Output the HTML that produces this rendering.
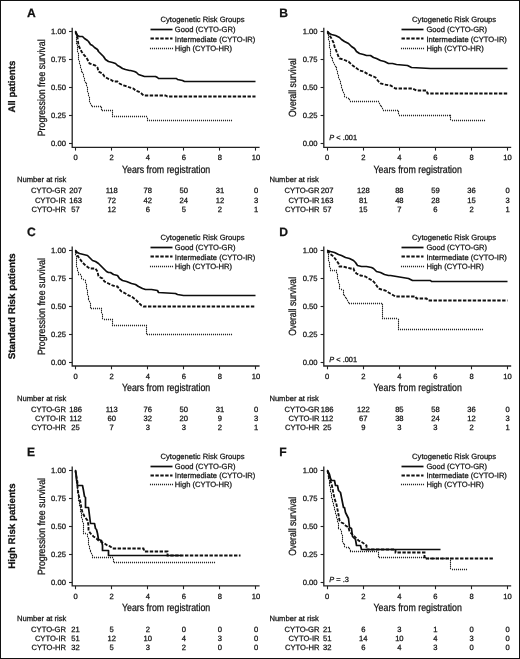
<!DOCTYPE html><html><head><meta charset="utf-8"><style>html,body{margin:0;padding:0;background:#fff;width:520px;height:659px;overflow:hidden}svg{display:block;will-change:transform}</style></head><body><svg width="520" height="659" viewBox="0 0 520 659">
<style>text{font-family:"Liberation Sans",sans-serif;fill:#111;stroke:#111;stroke-width:0.25;text-rendering:geometricPrecision}.ax{stroke:#222;stroke-width:1.3;fill:none}.tk{stroke:#222;stroke-width:1.1;fill:none}.s{stroke:#0d0d0d;stroke-width:1.7;fill:none;stroke-linejoin:round}.d{stroke:#111;stroke-width:1.85;fill:none;stroke-dasharray:3.4 1.5}.o{stroke:#2a2a2a;stroke-width:1.3;fill:none;stroke-dasharray:1 1}.od{fill:#262626;stroke:none}</style>
<rect x="0" y="0" width="520" height="659" fill="#fff"/>
<rect x="0.5" y="0.5" width="519" height="658" fill="none" stroke="#111" stroke-width="1"/>
<path class="ax" d="M72.2,27.8 L72.2,147.3 L259.6,147.3"/>
<path class="tk" d="M69,143.5 H72.2"/>
<text x="65.9" y="146.3" font-size="7.6" text-anchor="end" >0.00</text>
<path class="tk" d="M69,115.5 H72.2"/>
<text x="65.9" y="118.29" font-size="7.6" text-anchor="end" >0.25</text>
<path class="tk" d="M69,87.5 H72.2"/>
<text x="65.9" y="90.27" font-size="7.6" text-anchor="end" >0.50</text>
<path class="tk" d="M69,59.5 H72.2"/>
<text x="65.9" y="62.26" font-size="7.6" text-anchor="end" >0.75</text>
<path class="tk" d="M69,31.5 H72.2"/>
<text x="65.9" y="34.25" font-size="7.6" text-anchor="end" >1.00</text>
<path class="tk" d="M75.5,147.3 V150.6"/>
<text x="75.6" y="159.9" font-size="7.6" text-anchor="middle" >0</text>
<path class="tk" d="M111.5,147.3 V150.6"/>
<text x="111.68" y="159.9" font-size="7.6" text-anchor="middle" >2</text>
<path class="tk" d="M147.5,147.3 V150.6"/>
<text x="147.76" y="159.9" font-size="7.6" text-anchor="middle" >4</text>
<path class="tk" d="M183.5,147.3 V150.6"/>
<text x="183.84" y="159.9" font-size="7.6" text-anchor="middle" >6</text>
<path class="tk" d="M219.5,147.3 V150.6"/>
<text x="219.92" y="159.9" font-size="7.6" text-anchor="middle" >8</text>
<path class="tk" d="M255.5,147.3 V150.6"/>
<text x="256" y="159.9" font-size="7.6" text-anchor="middle" >10</text>
<text x="121.91" y="172.7" font-size="10.4" textLength="88.37" lengthAdjust="spacingAndGlyphs">Years from registration</text>
<text transform="translate(44.7,135.6) rotate(-90)" x="-0.72" y="0" font-size="10.4" textLength="96.92" lengthAdjust="spacingAndGlyphs">Progression free survival</text>
<text x="27" y="16.8" font-size="12.1" font-weight="bold">A</text>
<text x="160.5" y="22.2" font-size="7.65" text-anchor="start" textLength="84.06" lengthAdjust="spacingAndGlyphs">Cytogenetic Risk Groups</text>
<path class="s" d="M150.5,29.5 L172.5,29.5"/>
<text x="174.8" y="32" font-size="7.65" text-anchor="start" textLength="60.67" lengthAdjust="spacingAndGlyphs">Good (CYTO-GR)</text>
<path class="d" d="M150.5,38.5 L172.5,38.5"/>
<text x="174.8" y="41.5" font-size="7.65" text-anchor="start" textLength="80.52" lengthAdjust="spacingAndGlyphs">Intermediate (CYTO-IR)</text>
<path class="od" d="M149.95,47.8h1.1v1.4h-1.1zM151.95,47.8h1.1v1.4h-1.1zM153.95,47.8h1.1v1.4h-1.1zM155.95,47.8h1.1v1.4h-1.1zM157.95,47.8h1.1v1.4h-1.1zM159.95,47.8h1.1v1.4h-1.1zM161.95,47.8h1.1v1.4h-1.1zM163.95,47.8h1.1v1.4h-1.1zM165.95,47.8h1.1v1.4h-1.1zM167.95,47.8h1.1v1.4h-1.1zM169.95,47.8h1.1v1.4h-1.1zM171.95,47.8h1.1v1.4h-1.1z"/>
<text x="174.8" y="50.7" font-size="7.65" text-anchor="start" textLength="57.29" lengthAdjust="spacingAndGlyphs">High (CYTO-HR)</text>
<text x="17" y="182.1" font-size="7.65" text-anchor="start" textLength="49.41" lengthAdjust="spacingAndGlyphs">Number at risk</text>
<text x="66" y="193.35" font-size="7.65" text-anchor="end" textLength="34.91" lengthAdjust="spacingAndGlyphs">CYTO-GR</text>
<text x="75.6" y="193.35" font-size="7.6" text-anchor="middle" >207</text>
<text x="111.68" y="193.35" font-size="7.6" text-anchor="middle" >118</text>
<text x="147.76" y="193.35" font-size="7.6" text-anchor="middle" >78</text>
<text x="183.84" y="193.35" font-size="7.6" text-anchor="middle" >50</text>
<text x="219.92" y="193.35" font-size="7.6" text-anchor="middle" >31</text>
<text x="256" y="193.35" font-size="7.6" text-anchor="middle" >0</text>
<text x="66" y="202.55" font-size="7.65" text-anchor="end" textLength="31.11" lengthAdjust="spacingAndGlyphs">CYTO-IR</text>
<text x="75.6" y="202.55" font-size="7.6" text-anchor="middle" >163</text>
<text x="111.68" y="202.55" font-size="7.6" text-anchor="middle" >72</text>
<text x="147.76" y="202.55" font-size="7.6" text-anchor="middle" >42</text>
<text x="183.84" y="202.55" font-size="7.6" text-anchor="middle" >24</text>
<text x="219.92" y="202.55" font-size="7.6" text-anchor="middle" >12</text>
<text x="256" y="202.55" font-size="7.6" text-anchor="middle" >3</text>
<text x="66" y="211.65" font-size="7.65" text-anchor="end" textLength="34.48" lengthAdjust="spacingAndGlyphs">CYTO-HR</text>
<text x="75.6" y="211.65" font-size="7.6" text-anchor="middle" >57</text>
<text x="111.68" y="211.65" font-size="7.6" text-anchor="middle" >12</text>
<text x="147.76" y="211.65" font-size="7.6" text-anchor="middle" >6</text>
<text x="183.84" y="211.65" font-size="7.6" text-anchor="middle" >5</text>
<text x="219.92" y="211.65" font-size="7.6" text-anchor="middle" >2</text>
<text x="256" y="211.65" font-size="7.6" text-anchor="middle" >1</text>
<path class="od" d="M74.95,30.8h1.1v1.4h-1.1zM74.95,32.8h1.1v1.4h-1.1zM75.95,34.8h1.1v1.4h-1.1zM75.95,36.8h1.1v1.4h-1.1zM75.95,38.8h1.1v1.4h-1.1zM75.95,40.8h1.1v1.4h-1.1zM75.95,42.8h1.1v1.4h-1.1zM76.95,44.8h1.1v1.4h-1.1zM76.95,46.8h1.1v1.4h-1.1zM76.95,48.8h1.1v1.4h-1.1zM76.95,50.8h1.1v1.4h-1.1zM77.95,52.8h1.1v1.4h-1.1zM77.95,54.8h1.1v1.4h-1.1zM77.95,56.8h1.1v1.4h-1.1zM77.95,58.8h1.1v1.4h-1.1zM78.95,60.8h1.1v1.4h-1.1zM78.95,62.8h1.1v1.4h-1.1zM79.95,64.8h1.1v1.4h-1.1zM79.95,66.8h1.1v1.4h-1.1zM80.95,68.8h1.1v1.4h-1.1zM80.95,70.8h1.1v1.4h-1.1zM81.95,71.8h1.1v1.4h-1.1zM82.95,73.8h1.1v1.4h-1.1zM82.95,75.8h1.1v1.4h-1.1zM83.95,77.8h1.1v1.4h-1.1zM83.95,79.8h1.1v1.4h-1.1zM84.95,81.8h1.1v1.4h-1.1zM85.95,82.8h1.1v1.4h-1.1zM85.95,84.8h1.1v1.4h-1.1zM86.95,86.8h1.1v1.4h-1.1zM86.95,88.8h1.1v1.4h-1.1zM86.95,90.8h1.1v1.4h-1.1zM87.95,92.8h1.1v1.4h-1.1zM87.95,94.8h1.1v1.4h-1.1zM88.95,96.8h1.1v1.4h-1.1zM88.95,98.8h1.1v1.4h-1.1zM88.95,100.8h1.1v1.4h-1.1zM89.95,102.8h1.1v1.4h-1.1zM90.95,104.8h1.1v1.4h-1.1zM91.95,105.8h1.1v1.4h-1.1zM93.95,105.8h1.1v1.4h-1.1zM95.95,105.8h1.1v1.4h-1.1zM97.95,105.8h1.1v1.4h-1.1zM99.95,105.8h1.1v1.4h-1.1zM100.95,106.8h1.1v1.4h-1.1zM100.95,108.8h1.1v1.4h-1.1zM101.95,109.8h1.1v1.4h-1.1zM103.95,109.8h1.1v1.4h-1.1zM105.95,109.8h1.1v1.4h-1.1zM107.95,109.8h1.1v1.4h-1.1zM109.95,109.8h1.1v1.4h-1.1zM111.95,109.8h1.1v1.4h-1.1zM111.95,111.8h1.1v1.4h-1.1zM111.95,113.8h1.1v1.4h-1.1zM111.95,115.8h1.1v1.4h-1.1zM113.95,115.8h1.1v1.4h-1.1zM115.95,115.8h1.1v1.4h-1.1zM117.95,115.8h1.1v1.4h-1.1zM119.95,115.8h1.1v1.4h-1.1zM121.95,115.8h1.1v1.4h-1.1zM123.95,115.8h1.1v1.4h-1.1zM125.95,115.8h1.1v1.4h-1.1zM127.95,115.8h1.1v1.4h-1.1zM129.95,115.8h1.1v1.4h-1.1zM131.95,115.8h1.1v1.4h-1.1zM133.95,115.8h1.1v1.4h-1.1zM135.95,115.8h1.1v1.4h-1.1zM137.95,115.8h1.1v1.4h-1.1zM139.95,115.8h1.1v1.4h-1.1zM141.95,115.8h1.1v1.4h-1.1zM143.95,115.8h1.1v1.4h-1.1zM145.95,115.8h1.1v1.4h-1.1zM146.95,117.8h1.1v1.4h-1.1zM146.95,119.8h1.1v1.4h-1.1zM148.95,119.8h1.1v1.4h-1.1zM150.95,119.8h1.1v1.4h-1.1zM152.95,119.8h1.1v1.4h-1.1zM154.95,119.8h1.1v1.4h-1.1zM156.95,119.8h1.1v1.4h-1.1zM158.95,119.8h1.1v1.4h-1.1zM160.95,119.8h1.1v1.4h-1.1zM162.95,119.8h1.1v1.4h-1.1zM164.95,119.8h1.1v1.4h-1.1zM166.95,119.8h1.1v1.4h-1.1zM168.95,119.8h1.1v1.4h-1.1zM170.95,119.8h1.1v1.4h-1.1zM172.95,119.8h1.1v1.4h-1.1zM174.95,119.8h1.1v1.4h-1.1zM176.95,119.8h1.1v1.4h-1.1zM178.95,119.8h1.1v1.4h-1.1zM180.95,119.8h1.1v1.4h-1.1zM182.95,119.8h1.1v1.4h-1.1zM184.95,119.8h1.1v1.4h-1.1zM186.95,119.8h1.1v1.4h-1.1zM188.95,119.8h1.1v1.4h-1.1zM190.95,119.8h1.1v1.4h-1.1zM192.95,119.8h1.1v1.4h-1.1zM194.95,119.8h1.1v1.4h-1.1zM196.95,119.8h1.1v1.4h-1.1zM198.95,119.8h1.1v1.4h-1.1zM200.95,119.8h1.1v1.4h-1.1zM202.95,119.8h1.1v1.4h-1.1zM204.95,119.8h1.1v1.4h-1.1zM206.95,119.8h1.1v1.4h-1.1zM208.95,119.8h1.1v1.4h-1.1zM210.95,119.8h1.1v1.4h-1.1zM212.95,119.8h1.1v1.4h-1.1zM214.95,119.8h1.1v1.4h-1.1zM216.95,119.8h1.1v1.4h-1.1zM218.95,119.8h1.1v1.4h-1.1zM220.95,119.8h1.1v1.4h-1.1zM222.95,119.8h1.1v1.4h-1.1zM224.95,119.8h1.1v1.4h-1.1zM226.95,119.8h1.1v1.4h-1.1zM228.95,119.8h1.1v1.4h-1.1zM230.95,119.8h1.1v1.4h-1.1z"/>
<path class="d" d="M75.5,31.5 L77.5,37.5 L78.5,45.5 L79.5,47.5 L81.5,51.5 L83.5,54.5 L85.5,56.5 L87.5,59.5 L89.5,63.5 L92.5,64.5 L95.5,65.5 L97.5,67.5 L98.5,71.5 L102.5,73.5 L104.5,76.5 L107.5,78.5 L110.5,79.5 L113.5,81.5 L117.5,81.5 L119.5,83.5 L123.5,85.5 L127.5,86.5 L129.5,87.5 L133.5,88.5 L135.5,90.5 L140.5,92.5 L143.5,95.5 L165.5,95.5 L167.5,96.5 L255.5,96.5"/>
<path class="s" d="M75.5,31.5 L77.5,35.5 L79.5,36.5 L82.5,36.5 L84.5,38.5 L87.5,40.5 L88.5,41.5 L90.5,44.5 L92.5,45.5 L94.5,47.5 L97.5,49.5 L98.5,51.5 L100.5,53.5 L103.5,56.5 L105.5,59.5 L108.5,61.5 L112.5,62.5 L115.5,63.5 L117.5,65.5 L119.5,66.5 L122.5,68.5 L125.5,69.5 L129.5,70.5 L130.5,70.5 L134.5,71.5 L136.5,72.5 L138.5,74.5 L141.5,75.5 L144.5,76.5 L152.5,76.5 L155.5,76.5 L157.5,77.5 L158.5,78.5 L176.5,78.5 L177.5,79.5 L182.5,80.5 L184.5,81.5 L255.5,81.5"/>
<path class="ax" d="M323.8,27.8 L323.8,147.3 L511.2,147.3"/>
<path class="tk" d="M320.6,143.5 H323.8"/>
<text x="317.5" y="146.3" font-size="7.6" text-anchor="end" >0.00</text>
<path class="tk" d="M320.6,115.5 H323.8"/>
<text x="317.5" y="118.29" font-size="7.6" text-anchor="end" >0.25</text>
<path class="tk" d="M320.6,87.5 H323.8"/>
<text x="317.5" y="90.27" font-size="7.6" text-anchor="end" >0.50</text>
<path class="tk" d="M320.6,59.5 H323.8"/>
<text x="317.5" y="62.26" font-size="7.6" text-anchor="end" >0.75</text>
<path class="tk" d="M320.6,31.5 H323.8"/>
<text x="317.5" y="34.25" font-size="7.6" text-anchor="end" >1.00</text>
<path class="tk" d="M327.5,147.3 V150.6"/>
<text x="327.2" y="159.9" font-size="7.6" text-anchor="middle" >0</text>
<path class="tk" d="M363.5,147.3 V150.6"/>
<text x="363.28" y="159.9" font-size="7.6" text-anchor="middle" >2</text>
<path class="tk" d="M399.5,147.3 V150.6"/>
<text x="399.36" y="159.9" font-size="7.6" text-anchor="middle" >4</text>
<path class="tk" d="M435.5,147.3 V150.6"/>
<text x="435.44" y="159.9" font-size="7.6" text-anchor="middle" >6</text>
<path class="tk" d="M471.5,147.3 V150.6"/>
<text x="471.52" y="159.9" font-size="7.6" text-anchor="middle" >8</text>
<path class="tk" d="M507.5,147.3 V150.6"/>
<text x="507.6" y="159.9" font-size="7.6" text-anchor="middle" >10</text>
<text x="373.51" y="172.7" font-size="10.4" textLength="88.37" lengthAdjust="spacingAndGlyphs">Years from registration</text>
<text transform="translate(296.3,116.7) rotate(-90)" x="-0.4" y="0" font-size="10.4" textLength="58.88" lengthAdjust="spacingAndGlyphs">Overall survival</text>
<text x="279.3" y="16.8" font-size="12.1" font-weight="bold">B</text>
<text x="412.1" y="22.2" font-size="7.65" text-anchor="start" textLength="84.06" lengthAdjust="spacingAndGlyphs">Cytogenetic Risk Groups</text>
<path class="s" d="M401.5,29.5 L423.5,29.5"/>
<text x="426.4" y="32" font-size="7.65" text-anchor="start" textLength="60.67" lengthAdjust="spacingAndGlyphs">Good (CYTO-GR)</text>
<path class="d" d="M401.5,38.5 L423.5,38.5"/>
<text x="426.4" y="41.5" font-size="7.65" text-anchor="start" textLength="80.52" lengthAdjust="spacingAndGlyphs">Intermediate (CYTO-IR)</text>
<path class="od" d="M400.95,47.8h1.1v1.4h-1.1zM402.95,47.8h1.1v1.4h-1.1zM404.95,47.8h1.1v1.4h-1.1zM406.95,47.8h1.1v1.4h-1.1zM408.95,47.8h1.1v1.4h-1.1zM410.95,47.8h1.1v1.4h-1.1zM412.95,47.8h1.1v1.4h-1.1zM414.95,47.8h1.1v1.4h-1.1zM416.95,47.8h1.1v1.4h-1.1zM418.95,47.8h1.1v1.4h-1.1zM420.95,47.8h1.1v1.4h-1.1zM422.95,47.8h1.1v1.4h-1.1z"/>
<text x="426.4" y="50.7" font-size="7.65" text-anchor="start" textLength="57.29" lengthAdjust="spacingAndGlyphs">High (CYTO-HR)</text>
<text x="329.3" y="140.3" font-size="7.4"><tspan font-style="italic">P</tspan> &lt; .001</text>
<text x="269.4" y="182.4" font-size="7.65" text-anchor="start" textLength="49.41" lengthAdjust="spacingAndGlyphs">Number at risk</text>
<text x="319.5" y="193.35" font-size="7.65" text-anchor="end" textLength="34.91" lengthAdjust="spacingAndGlyphs">CYTO-GR</text>
<text x="327.2" y="193.35" font-size="7.6" text-anchor="middle" >207</text>
<text x="363.28" y="193.35" font-size="7.6" text-anchor="middle" >128</text>
<text x="399.36" y="193.35" font-size="7.6" text-anchor="middle" >88</text>
<text x="435.44" y="193.35" font-size="7.6" text-anchor="middle" >59</text>
<text x="471.52" y="193.35" font-size="7.6" text-anchor="middle" >36</text>
<text x="507.6" y="193.35" font-size="7.6" text-anchor="middle" >0</text>
<text x="319.5" y="202.55" font-size="7.65" text-anchor="end" textLength="31.11" lengthAdjust="spacingAndGlyphs">CYTO-IR</text>
<text x="327.2" y="202.55" font-size="7.6" text-anchor="middle" >163</text>
<text x="363.28" y="202.55" font-size="7.6" text-anchor="middle" >81</text>
<text x="399.36" y="202.55" font-size="7.6" text-anchor="middle" >48</text>
<text x="435.44" y="202.55" font-size="7.6" text-anchor="middle" >28</text>
<text x="471.52" y="202.55" font-size="7.6" text-anchor="middle" >15</text>
<text x="507.6" y="202.55" font-size="7.6" text-anchor="middle" >3</text>
<text x="319.5" y="211.65" font-size="7.65" text-anchor="end" textLength="34.48" lengthAdjust="spacingAndGlyphs">CYTO-HR</text>
<text x="327.2" y="211.65" font-size="7.6" text-anchor="middle" >57</text>
<text x="363.28" y="211.65" font-size="7.6" text-anchor="middle" >15</text>
<text x="399.36" y="211.65" font-size="7.6" text-anchor="middle" >7</text>
<text x="435.44" y="211.65" font-size="7.6" text-anchor="middle" >6</text>
<text x="471.52" y="211.65" font-size="7.6" text-anchor="middle" >2</text>
<text x="507.6" y="211.65" font-size="7.6" text-anchor="middle" >1</text>
<path class="od" d="M326.95,30.8h1.1v1.4h-1.1zM326.95,32.8h1.1v1.4h-1.1zM327.95,34.8h1.1v1.4h-1.1zM327.95,36.8h1.1v1.4h-1.1zM327.95,38.8h1.1v1.4h-1.1zM328.95,40.8h1.1v1.4h-1.1zM328.95,42.8h1.1v1.4h-1.1zM328.95,44.8h1.1v1.4h-1.1zM328.95,46.8h1.1v1.4h-1.1zM329.95,48.8h1.1v1.4h-1.1zM329.95,50.8h1.1v1.4h-1.1zM329.95,52.8h1.1v1.4h-1.1zM329.95,54.8h1.1v1.4h-1.1zM330.95,56.8h1.1v1.4h-1.1zM331.95,57.8h1.1v1.4h-1.1zM331.95,59.8h1.1v1.4h-1.1zM332.95,61.8h1.1v1.4h-1.1zM333.95,63.8h1.1v1.4h-1.1zM334.95,65.8h1.1v1.4h-1.1zM335.95,66.8h1.1v1.4h-1.1zM335.95,68.8h1.1v1.4h-1.1zM336.95,70.8h1.1v1.4h-1.1zM336.95,72.8h1.1v1.4h-1.1zM337.95,74.8h1.1v1.4h-1.1zM337.95,76.8h1.1v1.4h-1.1zM338.95,78.8h1.1v1.4h-1.1zM339.95,80.8h1.1v1.4h-1.1zM339.95,82.8h1.1v1.4h-1.1zM340.95,84.8h1.1v1.4h-1.1zM340.95,86.8h1.1v1.4h-1.1zM341.95,88.8h1.1v1.4h-1.1zM341.95,89.8h1.1v1.4h-1.1zM342.95,91.8h1.1v1.4h-1.1zM343.95,93.8h1.1v1.4h-1.1zM343.95,95.8h1.1v1.4h-1.1zM345.95,96.8h1.1v1.4h-1.1zM347.95,97.8h1.1v1.4h-1.1zM348.95,98.8h1.1v1.4h-1.1zM349.95,100.8h1.1v1.4h-1.1zM351.95,100.8h1.1v1.4h-1.1zM353.95,100.8h1.1v1.4h-1.1zM355.95,100.8h1.1v1.4h-1.1zM357.95,100.8h1.1v1.4h-1.1zM359.95,100.8h1.1v1.4h-1.1zM361.95,100.8h1.1v1.4h-1.1zM363.95,100.8h1.1v1.4h-1.1zM365.95,100.8h1.1v1.4h-1.1zM367.95,100.8h1.1v1.4h-1.1zM369.95,100.8h1.1v1.4h-1.1zM371.95,100.8h1.1v1.4h-1.1zM373.95,100.8h1.1v1.4h-1.1zM375.95,100.8h1.1v1.4h-1.1zM377.95,100.8h1.1v1.4h-1.1zM378.95,102.8h1.1v1.4h-1.1zM379.95,104.8h1.1v1.4h-1.1zM380.95,105.8h1.1v1.4h-1.1zM381.95,107.8h1.1v1.4h-1.1zM382.95,109.8h1.1v1.4h-1.1zM384.95,109.8h1.1v1.4h-1.1zM386.95,109.8h1.1v1.4h-1.1zM388.95,109.8h1.1v1.4h-1.1zM390.95,109.8h1.1v1.4h-1.1zM392.95,109.8h1.1v1.4h-1.1zM394.95,109.8h1.1v1.4h-1.1zM396.95,109.8h1.1v1.4h-1.1zM397.95,110.8h1.1v1.4h-1.1zM397.95,112.8h1.1v1.4h-1.1zM398.95,114.8h1.1v1.4h-1.1zM400.95,114.8h1.1v1.4h-1.1zM402.95,114.8h1.1v1.4h-1.1zM404.95,114.8h1.1v1.4h-1.1zM406.95,114.8h1.1v1.4h-1.1zM408.95,114.8h1.1v1.4h-1.1zM410.95,114.8h1.1v1.4h-1.1zM412.95,114.8h1.1v1.4h-1.1zM414.95,114.8h1.1v1.4h-1.1zM416.95,114.8h1.1v1.4h-1.1zM418.95,114.8h1.1v1.4h-1.1zM420.95,114.8h1.1v1.4h-1.1zM422.95,114.8h1.1v1.4h-1.1zM424.95,114.8h1.1v1.4h-1.1zM426.95,114.8h1.1v1.4h-1.1zM428.95,114.8h1.1v1.4h-1.1zM430.95,114.8h1.1v1.4h-1.1zM432.95,114.8h1.1v1.4h-1.1zM434.95,114.8h1.1v1.4h-1.1zM436.95,114.8h1.1v1.4h-1.1zM438.95,114.8h1.1v1.4h-1.1zM440.95,114.8h1.1v1.4h-1.1zM442.95,114.8h1.1v1.4h-1.1zM444.95,114.8h1.1v1.4h-1.1zM446.95,114.8h1.1v1.4h-1.1zM448.95,114.8h1.1v1.4h-1.1zM449.95,114.8h1.1v1.4h-1.1zM449.95,116.8h1.1v1.4h-1.1zM449.95,118.8h1.1v1.4h-1.1zM451.95,119.8h1.1v1.4h-1.1zM453.95,119.8h1.1v1.4h-1.1zM455.95,119.8h1.1v1.4h-1.1zM457.95,119.8h1.1v1.4h-1.1zM459.95,119.8h1.1v1.4h-1.1zM461.95,119.8h1.1v1.4h-1.1zM463.95,119.8h1.1v1.4h-1.1zM465.95,119.8h1.1v1.4h-1.1zM467.95,119.8h1.1v1.4h-1.1zM469.95,119.8h1.1v1.4h-1.1zM471.95,119.8h1.1v1.4h-1.1zM473.95,119.8h1.1v1.4h-1.1zM475.95,119.8h1.1v1.4h-1.1zM477.95,119.8h1.1v1.4h-1.1zM479.95,119.8h1.1v1.4h-1.1zM481.95,119.8h1.1v1.4h-1.1zM483.95,119.8h1.1v1.4h-1.1z"/>
<path class="d" d="M327.5,31.5 L329.5,35.5 L331.5,38.5 L333.5,42.5 L334.5,46.5 L336.5,51.5 L338.5,56.5 L339.5,58.5 L343.5,59.5 L345.5,60.5 L348.5,61.5 L351.5,64.5 L355.5,67.5 L359.5,70.5 L363.5,71.5 L368.5,74.5 L373.5,76.5 L375.5,77.5 L378.5,81.5 L380.5,83.5 L384.5,84.5 L390.5,85.5 L395.5,88.5 L412.5,88.5 L416.5,90.5 L426.5,90.5 L427.5,93.5 L507.5,93.5"/>
<path class="s" d="M327.5,31.5 L329.5,33.5 L331.5,34.5 L335.5,35.5 L339.5,37.5 L341.5,39.5 L344.5,41.5 L348.5,43.5 L351.5,46.5 L354.5,48.5 L356.5,51.5 L359.5,53.5 L363.5,54.5 L366.5,55.5 L370.5,55.5 L373.5,57.5 L376.5,58.5 L380.5,60.5 L384.5,61.5 L388.5,63.5 L392.5,63.5 L396.5,64.5 L407.5,65.5 L409.5,66.5 L411.5,67.5 L430.5,68.5 L432.5,68.5 L507.5,68.5"/>
<path class="ax" d="M72.2,246.5 L72.2,366 L259.6,366"/>
<path class="tk" d="M69,362.5 H72.2"/>
<text x="65.9" y="365" font-size="7.6" text-anchor="end" >0.00</text>
<path class="tk" d="M69,334.5 H72.2"/>
<text x="65.9" y="336.99" font-size="7.6" text-anchor="end" >0.25</text>
<path class="tk" d="M69,306.5 H72.2"/>
<text x="65.9" y="308.97" font-size="7.6" text-anchor="end" >0.50</text>
<path class="tk" d="M69,278.5 H72.2"/>
<text x="65.9" y="280.96" font-size="7.6" text-anchor="end" >0.75</text>
<path class="tk" d="M69,250.5 H72.2"/>
<text x="65.9" y="252.95" font-size="7.6" text-anchor="end" >1.00</text>
<path class="tk" d="M75.5,366 V369.3"/>
<text x="75.6" y="378.6" font-size="7.6" text-anchor="middle" >0</text>
<path class="tk" d="M111.5,366 V369.3"/>
<text x="111.68" y="378.6" font-size="7.6" text-anchor="middle" >2</text>
<path class="tk" d="M147.5,366 V369.3"/>
<text x="147.76" y="378.6" font-size="7.6" text-anchor="middle" >4</text>
<path class="tk" d="M183.5,366 V369.3"/>
<text x="183.84" y="378.6" font-size="7.6" text-anchor="middle" >6</text>
<path class="tk" d="M219.5,366 V369.3"/>
<text x="219.92" y="378.6" font-size="7.6" text-anchor="middle" >8</text>
<path class="tk" d="M255.5,366 V369.3"/>
<text x="256" y="378.6" font-size="7.6" text-anchor="middle" >10</text>
<text x="121.91" y="391.4" font-size="10.4" textLength="88.37" lengthAdjust="spacingAndGlyphs">Years from registration</text>
<text transform="translate(44.7,354.3) rotate(-90)" x="-0.72" y="0" font-size="10.4" textLength="96.92" lengthAdjust="spacingAndGlyphs">Progression free survival</text>
<text x="27" y="235.8" font-size="12.1" font-weight="bold">C</text>
<text x="160.5" y="240.2" font-size="7.65" text-anchor="start" textLength="84.06" lengthAdjust="spacingAndGlyphs">Cytogenetic Risk Groups</text>
<path class="s" d="M150.5,247.5 L172.5,247.5"/>
<text x="174.8" y="250" font-size="7.65" text-anchor="start" textLength="60.67" lengthAdjust="spacingAndGlyphs">Good (CYTO-GR)</text>
<path class="d" d="M150.5,256.5 L172.5,256.5"/>
<text x="174.8" y="259.5" font-size="7.65" text-anchor="start" textLength="80.52" lengthAdjust="spacingAndGlyphs">Intermediate (CYTO-IR)</text>
<path class="od" d="M149.95,265.8h1.1v1.4h-1.1zM151.95,265.8h1.1v1.4h-1.1zM153.95,265.8h1.1v1.4h-1.1zM155.95,265.8h1.1v1.4h-1.1zM157.95,265.8h1.1v1.4h-1.1zM159.95,265.8h1.1v1.4h-1.1zM161.95,265.8h1.1v1.4h-1.1zM163.95,265.8h1.1v1.4h-1.1zM165.95,265.8h1.1v1.4h-1.1zM167.95,265.8h1.1v1.4h-1.1zM169.95,265.8h1.1v1.4h-1.1zM171.95,265.8h1.1v1.4h-1.1z"/>
<text x="174.8" y="268.7" font-size="7.65" text-anchor="start" textLength="57.29" lengthAdjust="spacingAndGlyphs">High (CYTO-HR)</text>
<text x="17" y="400.7" font-size="7.65" text-anchor="start" textLength="49.41" lengthAdjust="spacingAndGlyphs">Number at risk</text>
<text x="66" y="411.95" font-size="7.65" text-anchor="end" textLength="34.91" lengthAdjust="spacingAndGlyphs">CYTO-GR</text>
<text x="75.6" y="411.95" font-size="7.6" text-anchor="middle" >186</text>
<text x="111.68" y="411.95" font-size="7.6" text-anchor="middle" >113</text>
<text x="147.76" y="411.95" font-size="7.6" text-anchor="middle" >76</text>
<text x="183.84" y="411.95" font-size="7.6" text-anchor="middle" >50</text>
<text x="219.92" y="411.95" font-size="7.6" text-anchor="middle" >31</text>
<text x="256" y="411.95" font-size="7.6" text-anchor="middle" >0</text>
<text x="66" y="421.15" font-size="7.65" text-anchor="end" textLength="31.11" lengthAdjust="spacingAndGlyphs">CYTO-IR</text>
<text x="75.6" y="421.15" font-size="7.6" text-anchor="middle" >112</text>
<text x="111.68" y="421.15" font-size="7.6" text-anchor="middle" >60</text>
<text x="147.76" y="421.15" font-size="7.6" text-anchor="middle" >32</text>
<text x="183.84" y="421.15" font-size="7.6" text-anchor="middle" >20</text>
<text x="219.92" y="421.15" font-size="7.6" text-anchor="middle" >9</text>
<text x="256" y="421.15" font-size="7.6" text-anchor="middle" >3</text>
<text x="66" y="430.25" font-size="7.65" text-anchor="end" textLength="34.48" lengthAdjust="spacingAndGlyphs">CYTO-HR</text>
<text x="75.6" y="430.25" font-size="7.6" text-anchor="middle" >25</text>
<text x="111.68" y="430.25" font-size="7.6" text-anchor="middle" >7</text>
<text x="147.76" y="430.25" font-size="7.6" text-anchor="middle" >3</text>
<text x="183.84" y="430.25" font-size="7.6" text-anchor="middle" >3</text>
<text x="219.92" y="430.25" font-size="7.6" text-anchor="middle" >2</text>
<text x="256" y="430.25" font-size="7.6" text-anchor="middle" >1</text>
<path class="od" d="M74.95,249.8h1.1v1.4h-1.1zM74.95,251.8h1.1v1.4h-1.1zM74.95,253.8h1.1v1.4h-1.1zM75.95,255.8h1.1v1.4h-1.1zM75.95,257.8h1.1v1.4h-1.1zM75.95,259.8h1.1v1.4h-1.1zM75.95,261.8h1.1v1.4h-1.1zM75.95,263.8h1.1v1.4h-1.1zM75.95,265.8h1.1v1.4h-1.1zM76.95,267.8h1.1v1.4h-1.1zM76.95,269.8h1.1v1.4h-1.1zM77.95,271.8h1.1v1.4h-1.1zM77.95,273.8h1.1v1.4h-1.1zM79.95,273.8h1.1v1.4h-1.1zM80.95,275.8h1.1v1.4h-1.1zM80.95,277.8h1.1v1.4h-1.1zM82.95,278.8h1.1v1.4h-1.1zM84.95,279.8h1.1v1.4h-1.1zM84.95,281.8h1.1v1.4h-1.1zM85.95,283.8h1.1v1.4h-1.1zM85.95,285.8h1.1v1.4h-1.1zM85.95,287.8h1.1v1.4h-1.1zM86.95,289.8h1.1v1.4h-1.1zM86.95,291.8h1.1v1.4h-1.1zM86.95,293.8h1.1v1.4h-1.1zM87.95,295.8h1.1v1.4h-1.1zM87.95,297.8h1.1v1.4h-1.1zM87.95,298.8h1.1v1.4h-1.1zM88.95,300.8h1.1v1.4h-1.1zM89.95,302.8h1.1v1.4h-1.1zM89.95,304.8h1.1v1.4h-1.1zM89.95,306.8h1.1v1.4h-1.1zM90.95,307.8h1.1v1.4h-1.1zM92.95,307.8h1.1v1.4h-1.1zM94.95,307.8h1.1v1.4h-1.1zM96.95,307.8h1.1v1.4h-1.1zM98.95,307.8h1.1v1.4h-1.1zM100.95,307.8h1.1v1.4h-1.1zM100.95,309.8h1.1v1.4h-1.1zM100.95,311.8h1.1v1.4h-1.1zM101.95,313.8h1.1v1.4h-1.1zM101.95,315.8h1.1v1.4h-1.1zM101.95,317.8h1.1v1.4h-1.1zM103.95,318.8h1.1v1.4h-1.1zM105.95,318.8h1.1v1.4h-1.1zM107.95,318.8h1.1v1.4h-1.1zM109.95,318.8h1.1v1.4h-1.1zM111.95,318.8h1.1v1.4h-1.1zM111.95,320.8h1.1v1.4h-1.1zM111.95,322.8h1.1v1.4h-1.1zM111.95,324.8h1.1v1.4h-1.1zM113.95,324.8h1.1v1.4h-1.1zM115.95,324.8h1.1v1.4h-1.1zM117.95,324.8h1.1v1.4h-1.1zM119.95,324.8h1.1v1.4h-1.1zM121.95,324.8h1.1v1.4h-1.1zM123.95,324.8h1.1v1.4h-1.1zM125.95,324.8h1.1v1.4h-1.1zM127.95,324.8h1.1v1.4h-1.1zM129.95,324.8h1.1v1.4h-1.1zM131.95,324.8h1.1v1.4h-1.1zM133.95,324.8h1.1v1.4h-1.1zM135.95,324.8h1.1v1.4h-1.1zM137.95,324.8h1.1v1.4h-1.1zM139.95,324.8h1.1v1.4h-1.1zM141.95,324.8h1.1v1.4h-1.1zM143.95,324.8h1.1v1.4h-1.1zM145.95,324.8h1.1v1.4h-1.1zM145.95,326.8h1.1v1.4h-1.1zM145.95,328.8h1.1v1.4h-1.1zM145.95,330.8h1.1v1.4h-1.1zM145.95,332.8h1.1v1.4h-1.1zM146.95,333.8h1.1v1.4h-1.1zM148.95,333.8h1.1v1.4h-1.1zM150.95,333.8h1.1v1.4h-1.1zM152.95,333.8h1.1v1.4h-1.1zM154.95,333.8h1.1v1.4h-1.1zM156.95,333.8h1.1v1.4h-1.1zM158.95,333.8h1.1v1.4h-1.1zM160.95,333.8h1.1v1.4h-1.1zM162.95,333.8h1.1v1.4h-1.1zM164.95,333.8h1.1v1.4h-1.1zM166.95,333.8h1.1v1.4h-1.1zM168.95,333.8h1.1v1.4h-1.1zM170.95,333.8h1.1v1.4h-1.1zM172.95,333.8h1.1v1.4h-1.1zM174.95,333.8h1.1v1.4h-1.1zM176.95,333.8h1.1v1.4h-1.1zM178.95,333.8h1.1v1.4h-1.1zM180.95,333.8h1.1v1.4h-1.1zM182.95,333.8h1.1v1.4h-1.1zM184.95,333.8h1.1v1.4h-1.1zM186.95,333.8h1.1v1.4h-1.1zM188.95,333.8h1.1v1.4h-1.1zM190.95,333.8h1.1v1.4h-1.1zM192.95,333.8h1.1v1.4h-1.1zM194.95,333.8h1.1v1.4h-1.1zM196.95,333.8h1.1v1.4h-1.1zM198.95,333.8h1.1v1.4h-1.1zM200.95,333.8h1.1v1.4h-1.1zM202.95,333.8h1.1v1.4h-1.1zM204.95,333.8h1.1v1.4h-1.1zM206.95,333.8h1.1v1.4h-1.1zM208.95,333.8h1.1v1.4h-1.1zM210.95,333.8h1.1v1.4h-1.1zM212.95,333.8h1.1v1.4h-1.1zM214.95,333.8h1.1v1.4h-1.1zM216.95,333.8h1.1v1.4h-1.1zM218.95,333.8h1.1v1.4h-1.1zM220.95,333.8h1.1v1.4h-1.1zM222.95,333.8h1.1v1.4h-1.1zM224.95,333.8h1.1v1.4h-1.1zM226.95,333.8h1.1v1.4h-1.1zM228.95,333.8h1.1v1.4h-1.1zM230.95,333.8h1.1v1.4h-1.1z"/>
<path class="d" d="M75.5,250.5 L77.5,255.5 L79.5,258.5 L82.5,262.5 L85.5,265.5 L89.5,268.5 L92.5,268.5 L95.5,268.5 L97.5,271.5 L98.5,276.5 L102.5,278.5 L104.5,281.5 L108.5,283.5 L112.5,285.5 L115.5,286.5 L117.5,286.5 L119.5,289.5 L121.5,291.5 L125.5,293.5 L128.5,295.5 L131.5,296.5 L135.5,299.5 L137.5,301.5 L141.5,305.5 L143.5,306.5 L255.5,306.5"/>
<path class="s" d="M75.5,250.5 L77.5,252.5 L79.5,253.5 L83.5,254.5 L87.5,255.5 L88.5,256.5 L90.5,258.5 L92.5,260.5 L95.5,261.5 L98.5,263.5 L101.5,266.5 L103.5,268.5 L106.5,271.5 L108.5,272.5 L110.5,272.5 L113.5,274.5 L117.5,275.5 L119.5,278.5 L122.5,280.5 L126.5,281.5 L131.5,283.5 L135.5,284.5 L138.5,286.5 L142.5,288.5 L145.5,289.5 L151.5,289.5 L157.5,290.5 L158.5,292.5 L175.5,293.5 L177.5,294.5 L183.5,295.5 L255.5,295.5"/>
<path class="ax" d="M323.8,246.5 L323.8,366 L511.2,366"/>
<path class="tk" d="M320.6,362.5 H323.8"/>
<text x="317.5" y="365" font-size="7.6" text-anchor="end" >0.00</text>
<path class="tk" d="M320.6,334.5 H323.8"/>
<text x="317.5" y="336.99" font-size="7.6" text-anchor="end" >0.25</text>
<path class="tk" d="M320.6,306.5 H323.8"/>
<text x="317.5" y="308.97" font-size="7.6" text-anchor="end" >0.50</text>
<path class="tk" d="M320.6,278.5 H323.8"/>
<text x="317.5" y="280.96" font-size="7.6" text-anchor="end" >0.75</text>
<path class="tk" d="M320.6,250.5 H323.8"/>
<text x="317.5" y="252.95" font-size="7.6" text-anchor="end" >1.00</text>
<path class="tk" d="M327.5,366 V369.3"/>
<text x="327.2" y="378.6" font-size="7.6" text-anchor="middle" >0</text>
<path class="tk" d="M363.5,366 V369.3"/>
<text x="363.28" y="378.6" font-size="7.6" text-anchor="middle" >2</text>
<path class="tk" d="M399.5,366 V369.3"/>
<text x="399.36" y="378.6" font-size="7.6" text-anchor="middle" >4</text>
<path class="tk" d="M435.5,366 V369.3"/>
<text x="435.44" y="378.6" font-size="7.6" text-anchor="middle" >6</text>
<path class="tk" d="M471.5,366 V369.3"/>
<text x="471.52" y="378.6" font-size="7.6" text-anchor="middle" >8</text>
<path class="tk" d="M507.5,366 V369.3"/>
<text x="507.6" y="378.6" font-size="7.6" text-anchor="middle" >10</text>
<text x="373.51" y="391.4" font-size="10.4" textLength="88.37" lengthAdjust="spacingAndGlyphs">Years from registration</text>
<text transform="translate(296.3,335.4) rotate(-90)" x="-0.4" y="0" font-size="10.4" textLength="58.88" lengthAdjust="spacingAndGlyphs">Overall survival</text>
<text x="279.3" y="235.8" font-size="12.1" font-weight="bold">D</text>
<text x="412.1" y="240.2" font-size="7.65" text-anchor="start" textLength="84.06" lengthAdjust="spacingAndGlyphs">Cytogenetic Risk Groups</text>
<path class="s" d="M401.5,247.5 L423.5,247.5"/>
<text x="426.4" y="250" font-size="7.65" text-anchor="start" textLength="60.67" lengthAdjust="spacingAndGlyphs">Good (CYTO-GR)</text>
<path class="d" d="M401.5,256.5 L423.5,256.5"/>
<text x="426.4" y="259.5" font-size="7.65" text-anchor="start" textLength="80.52" lengthAdjust="spacingAndGlyphs">Intermediate (CYTO-IR)</text>
<path class="od" d="M400.95,265.8h1.1v1.4h-1.1zM402.95,265.8h1.1v1.4h-1.1zM404.95,265.8h1.1v1.4h-1.1zM406.95,265.8h1.1v1.4h-1.1zM408.95,265.8h1.1v1.4h-1.1zM410.95,265.8h1.1v1.4h-1.1zM412.95,265.8h1.1v1.4h-1.1zM414.95,265.8h1.1v1.4h-1.1zM416.95,265.8h1.1v1.4h-1.1zM418.95,265.8h1.1v1.4h-1.1zM420.95,265.8h1.1v1.4h-1.1zM422.95,265.8h1.1v1.4h-1.1z"/>
<text x="426.4" y="268.7" font-size="7.65" text-anchor="start" textLength="57.29" lengthAdjust="spacingAndGlyphs">High (CYTO-HR)</text>
<text x="329.3" y="361.5" font-size="7.4"><tspan font-style="italic">P</tspan> &lt; .001</text>
<text x="269.4" y="401" font-size="7.65" text-anchor="start" textLength="49.41" lengthAdjust="spacingAndGlyphs">Number at risk</text>
<text x="319.5" y="411.95" font-size="7.65" text-anchor="end" textLength="34.91" lengthAdjust="spacingAndGlyphs">CYTO-GR</text>
<text x="327.2" y="411.95" font-size="7.6" text-anchor="middle" >186</text>
<text x="363.28" y="411.95" font-size="7.6" text-anchor="middle" >122</text>
<text x="399.36" y="411.95" font-size="7.6" text-anchor="middle" >85</text>
<text x="435.44" y="411.95" font-size="7.6" text-anchor="middle" >58</text>
<text x="471.52" y="411.95" font-size="7.6" text-anchor="middle" >36</text>
<text x="507.6" y="411.95" font-size="7.6" text-anchor="middle" >0</text>
<text x="319.5" y="421.15" font-size="7.65" text-anchor="end" textLength="31.11" lengthAdjust="spacingAndGlyphs">CYTO-IR</text>
<text x="327.2" y="421.15" font-size="7.6" text-anchor="middle" >112</text>
<text x="363.28" y="421.15" font-size="7.6" text-anchor="middle" >67</text>
<text x="399.36" y="421.15" font-size="7.6" text-anchor="middle" >38</text>
<text x="435.44" y="421.15" font-size="7.6" text-anchor="middle" >24</text>
<text x="471.52" y="421.15" font-size="7.6" text-anchor="middle" >12</text>
<text x="507.6" y="421.15" font-size="7.6" text-anchor="middle" >3</text>
<text x="319.5" y="430.25" font-size="7.65" text-anchor="end" textLength="34.48" lengthAdjust="spacingAndGlyphs">CYTO-HR</text>
<text x="327.2" y="430.25" font-size="7.6" text-anchor="middle" >25</text>
<text x="363.28" y="430.25" font-size="7.6" text-anchor="middle" >9</text>
<text x="399.36" y="430.25" font-size="7.6" text-anchor="middle" >3</text>
<text x="435.44" y="430.25" font-size="7.6" text-anchor="middle" >3</text>
<text x="471.52" y="430.25" font-size="7.6" text-anchor="middle" >2</text>
<text x="507.6" y="430.25" font-size="7.6" text-anchor="middle" >1</text>
<path class="od" d="M326.95,249.8h1.1v1.4h-1.1zM326.95,251.8h1.1v1.4h-1.1zM327.95,253.8h1.1v1.4h-1.1zM327.95,255.8h1.1v1.4h-1.1zM327.95,257.8h1.1v1.4h-1.1zM327.95,259.8h1.1v1.4h-1.1zM328.95,261.8h1.1v1.4h-1.1zM328.95,263.8h1.1v1.4h-1.1zM328.95,265.8h1.1v1.4h-1.1zM329.95,267.8h1.1v1.4h-1.1zM329.95,269.8h1.1v1.4h-1.1zM331.95,269.8h1.1v1.4h-1.1zM333.95,269.8h1.1v1.4h-1.1zM335.95,269.8h1.1v1.4h-1.1zM335.95,271.8h1.1v1.4h-1.1zM336.95,273.8h1.1v1.4h-1.1zM336.95,275.8h1.1v1.4h-1.1zM336.95,277.8h1.1v1.4h-1.1zM337.95,279.8h1.1v1.4h-1.1zM337.95,281.8h1.1v1.4h-1.1zM338.95,283.8h1.1v1.4h-1.1zM338.95,285.8h1.1v1.4h-1.1zM338.95,287.8h1.1v1.4h-1.1zM340.95,288.8h1.1v1.4h-1.1zM342.95,289.8h1.1v1.4h-1.1zM342.95,291.8h1.1v1.4h-1.1zM342.95,293.8h1.1v1.4h-1.1zM343.95,294.8h1.1v1.4h-1.1zM344.95,296.8h1.1v1.4h-1.1zM345.95,297.8h1.1v1.4h-1.1zM346.95,299.8h1.1v1.4h-1.1zM347.95,301.8h1.1v1.4h-1.1zM348.95,302.8h1.1v1.4h-1.1zM350.95,302.8h1.1v1.4h-1.1zM352.95,302.8h1.1v1.4h-1.1zM354.95,302.8h1.1v1.4h-1.1zM356.95,302.8h1.1v1.4h-1.1zM358.95,302.8h1.1v1.4h-1.1zM360.95,302.8h1.1v1.4h-1.1zM362.95,302.8h1.1v1.4h-1.1zM364.95,302.8h1.1v1.4h-1.1zM366.95,302.8h1.1v1.4h-1.1zM368.95,302.8h1.1v1.4h-1.1zM370.95,302.8h1.1v1.4h-1.1zM372.95,302.8h1.1v1.4h-1.1zM374.95,302.8h1.1v1.4h-1.1zM376.95,302.8h1.1v1.4h-1.1zM378.95,302.8h1.1v1.4h-1.1zM380.95,302.8h1.1v1.4h-1.1zM381.95,303.8h1.1v1.4h-1.1zM381.95,305.8h1.1v1.4h-1.1zM381.95,307.8h1.1v1.4h-1.1zM381.95,309.8h1.1v1.4h-1.1zM381.95,311.8h1.1v1.4h-1.1zM381.95,313.8h1.1v1.4h-1.1zM381.95,315.8h1.1v1.4h-1.1zM381.95,317.8h1.1v1.4h-1.1zM383.95,317.8h1.1v1.4h-1.1zM385.95,317.8h1.1v1.4h-1.1zM387.95,317.8h1.1v1.4h-1.1zM389.95,317.8h1.1v1.4h-1.1zM391.95,317.8h1.1v1.4h-1.1zM393.95,317.8h1.1v1.4h-1.1zM395.95,317.8h1.1v1.4h-1.1zM397.95,318.8h1.1v1.4h-1.1zM397.95,320.8h1.1v1.4h-1.1zM397.95,322.8h1.1v1.4h-1.1zM397.95,324.8h1.1v1.4h-1.1zM397.95,326.8h1.1v1.4h-1.1zM397.95,328.8h1.1v1.4h-1.1zM399.95,328.8h1.1v1.4h-1.1zM401.95,328.8h1.1v1.4h-1.1zM403.95,328.8h1.1v1.4h-1.1zM405.95,328.8h1.1v1.4h-1.1zM407.95,328.8h1.1v1.4h-1.1zM409.95,328.8h1.1v1.4h-1.1zM411.95,328.8h1.1v1.4h-1.1zM413.95,328.8h1.1v1.4h-1.1zM415.95,328.8h1.1v1.4h-1.1zM417.95,328.8h1.1v1.4h-1.1zM419.95,328.8h1.1v1.4h-1.1zM421.95,328.8h1.1v1.4h-1.1zM423.95,328.8h1.1v1.4h-1.1zM425.95,328.8h1.1v1.4h-1.1zM427.95,328.8h1.1v1.4h-1.1zM429.95,328.8h1.1v1.4h-1.1zM431.95,328.8h1.1v1.4h-1.1zM433.95,328.8h1.1v1.4h-1.1zM435.95,328.8h1.1v1.4h-1.1zM437.95,328.8h1.1v1.4h-1.1zM439.95,328.8h1.1v1.4h-1.1zM441.95,328.8h1.1v1.4h-1.1zM443.95,328.8h1.1v1.4h-1.1zM445.95,328.8h1.1v1.4h-1.1zM447.95,328.8h1.1v1.4h-1.1zM449.95,328.8h1.1v1.4h-1.1zM451.95,328.8h1.1v1.4h-1.1zM453.95,328.8h1.1v1.4h-1.1zM455.95,328.8h1.1v1.4h-1.1zM457.95,328.8h1.1v1.4h-1.1zM459.95,328.8h1.1v1.4h-1.1zM461.95,328.8h1.1v1.4h-1.1zM463.95,328.8h1.1v1.4h-1.1zM465.95,328.8h1.1v1.4h-1.1zM467.95,328.8h1.1v1.4h-1.1zM469.95,328.8h1.1v1.4h-1.1zM471.95,328.8h1.1v1.4h-1.1zM473.95,328.8h1.1v1.4h-1.1zM475.95,328.8h1.1v1.4h-1.1zM477.95,328.8h1.1v1.4h-1.1zM479.95,328.8h1.1v1.4h-1.1zM481.95,328.8h1.1v1.4h-1.1z"/>
<path class="d" d="M327.5,250.5 L329.5,253.5 L333.5,256.5 L336.5,260.5 L338.5,263.5 L339.5,266.5 L343.5,266.5 L346.5,267.5 L350.5,268.5 L353.5,268.5 L354.5,271.5 L356.5,273.5 L360.5,275.5 L365.5,276.5 L368.5,278.5 L372.5,280.5 L374.5,282.5 L376.5,285.5 L378.5,288.5 L381.5,289.5 L385.5,290.5 L388.5,292.5 L395.5,296.5 L415.5,296.5 L416.5,298.5 L426.5,298.5 L428.5,300.5 L507.5,300.5"/>
<path class="s" d="M327.5,250.5 L330.5,251.5 L334.5,252.5 L338.5,254.5 L341.5,255.5 L345.5,257.5 L349.5,258.5 L353.5,260.5 L355.5,262.5 L357.5,265.5 L361.5,266.5 L366.5,266.5 L371.5,267.5 L373.5,268.5 L376.5,271.5 L380.5,272.5 L384.5,274.5 L388.5,275.5 L390.5,275.5 L396.5,276.5 L402.5,277.5 L408.5,278.5 L412.5,280.5 L430.5,280.5 L431.5,281.5 L507.5,281.5"/>
<path class="ax" d="M72.2,466.4 L72.2,585.9 L259.6,585.9"/>
<path class="tk" d="M69,582.5 H72.2"/>
<text x="65.9" y="584.9" font-size="7.6" text-anchor="end" >0.00</text>
<path class="tk" d="M69,554.5 H72.2"/>
<text x="65.9" y="556.89" font-size="7.6" text-anchor="end" >0.25</text>
<path class="tk" d="M69,526.5 H72.2"/>
<text x="65.9" y="528.88" font-size="7.6" text-anchor="end" >0.50</text>
<path class="tk" d="M69,498.5 H72.2"/>
<text x="65.9" y="500.86" font-size="7.6" text-anchor="end" >0.75</text>
<path class="tk" d="M69,470.5 H72.2"/>
<text x="65.9" y="472.85" font-size="7.6" text-anchor="end" >1.00</text>
<path class="tk" d="M75.5,585.9 V589.2"/>
<text x="75.6" y="598.5" font-size="7.6" text-anchor="middle" >0</text>
<path class="tk" d="M111.5,585.9 V589.2"/>
<text x="111.68" y="598.5" font-size="7.6" text-anchor="middle" >2</text>
<path class="tk" d="M147.5,585.9 V589.2"/>
<text x="147.76" y="598.5" font-size="7.6" text-anchor="middle" >4</text>
<path class="tk" d="M183.5,585.9 V589.2"/>
<text x="183.84" y="598.5" font-size="7.6" text-anchor="middle" >6</text>
<path class="tk" d="M219.5,585.9 V589.2"/>
<text x="219.92" y="598.5" font-size="7.6" text-anchor="middle" >8</text>
<path class="tk" d="M255.5,585.9 V589.2"/>
<text x="256" y="598.5" font-size="7.6" text-anchor="middle" >10</text>
<text x="121.91" y="611.3" font-size="10.4" textLength="88.37" lengthAdjust="spacingAndGlyphs">Years from registration</text>
<text transform="translate(44.7,574.2) rotate(-90)" x="-0.72" y="0" font-size="10.4" textLength="96.92" lengthAdjust="spacingAndGlyphs">Progression free survival</text>
<text x="27" y="455.9" font-size="12.1" font-weight="bold">E</text>
<text x="160.5" y="458.9" font-size="7.65" text-anchor="start" textLength="84.06" lengthAdjust="spacingAndGlyphs">Cytogenetic Risk Groups</text>
<path class="s" d="M150.5,466.5 L172.5,466.5"/>
<text x="174.8" y="468.7" font-size="7.65" text-anchor="start" textLength="60.67" lengthAdjust="spacingAndGlyphs">Good (CYTO-GR)</text>
<path class="d" d="M150.5,475.5 L172.5,475.5"/>
<text x="174.8" y="478.2" font-size="7.65" text-anchor="start" textLength="80.52" lengthAdjust="spacingAndGlyphs">Intermediate (CYTO-IR)</text>
<path class="od" d="M149.95,483.8h1.1v1.4h-1.1zM151.95,483.8h1.1v1.4h-1.1zM153.95,483.8h1.1v1.4h-1.1zM155.95,483.8h1.1v1.4h-1.1zM157.95,483.8h1.1v1.4h-1.1zM159.95,483.8h1.1v1.4h-1.1zM161.95,483.8h1.1v1.4h-1.1zM163.95,483.8h1.1v1.4h-1.1zM165.95,483.8h1.1v1.4h-1.1zM167.95,483.8h1.1v1.4h-1.1zM169.95,483.8h1.1v1.4h-1.1zM171.95,483.8h1.1v1.4h-1.1z"/>
<text x="174.8" y="487.4" font-size="7.65" text-anchor="start" textLength="57.29" lengthAdjust="spacingAndGlyphs">High (CYTO-HR)</text>
<text x="17" y="620.7" font-size="7.65" text-anchor="start" textLength="49.41" lengthAdjust="spacingAndGlyphs">Number at risk</text>
<text x="66" y="631.95" font-size="7.65" text-anchor="end" textLength="34.91" lengthAdjust="spacingAndGlyphs">CYTO-GR</text>
<text x="75.6" y="631.95" font-size="7.6" text-anchor="middle" >21</text>
<text x="111.68" y="631.95" font-size="7.6" text-anchor="middle" >5</text>
<text x="147.76" y="631.95" font-size="7.6" text-anchor="middle" >2</text>
<text x="183.84" y="631.95" font-size="7.6" text-anchor="middle" >0</text>
<text x="219.92" y="631.95" font-size="7.6" text-anchor="middle" >0</text>
<text x="256" y="631.95" font-size="7.6" text-anchor="middle" >0</text>
<text x="66" y="641.15" font-size="7.65" text-anchor="end" textLength="31.11" lengthAdjust="spacingAndGlyphs">CYTO-IR</text>
<text x="75.6" y="641.15" font-size="7.6" text-anchor="middle" >51</text>
<text x="111.68" y="641.15" font-size="7.6" text-anchor="middle" >12</text>
<text x="147.76" y="641.15" font-size="7.6" text-anchor="middle" >10</text>
<text x="183.84" y="641.15" font-size="7.6" text-anchor="middle" >4</text>
<text x="219.92" y="641.15" font-size="7.6" text-anchor="middle" >3</text>
<text x="256" y="641.15" font-size="7.6" text-anchor="middle" >0</text>
<text x="66" y="650.25" font-size="7.65" text-anchor="end" textLength="34.48" lengthAdjust="spacingAndGlyphs">CYTO-HR</text>
<text x="75.6" y="650.25" font-size="7.6" text-anchor="middle" >32</text>
<text x="111.68" y="650.25" font-size="7.6" text-anchor="middle" >5</text>
<text x="147.76" y="650.25" font-size="7.6" text-anchor="middle" >3</text>
<text x="183.84" y="650.25" font-size="7.6" text-anchor="middle" >2</text>
<text x="219.92" y="650.25" font-size="7.6" text-anchor="middle" >0</text>
<text x="256" y="650.25" font-size="7.6" text-anchor="middle" >0</text>
<path class="od" d="M74.95,469.8h1.1v1.4h-1.1zM74.95,471.8h1.1v1.4h-1.1zM75.95,473.8h1.1v1.4h-1.1zM75.95,475.8h1.1v1.4h-1.1zM75.95,477.8h1.1v1.4h-1.1zM75.95,479.8h1.1v1.4h-1.1zM75.95,481.8h1.1v1.4h-1.1zM76.95,483.8h1.1v1.4h-1.1zM76.95,485.8h1.1v1.4h-1.1zM76.95,487.8h1.1v1.4h-1.1zM76.95,489.8h1.1v1.4h-1.1zM76.95,491.8h1.1v1.4h-1.1zM77.95,493.8h1.1v1.4h-1.1zM77.95,495.8h1.1v1.4h-1.1zM77.95,497.8h1.1v1.4h-1.1zM77.95,499.8h1.1v1.4h-1.1zM78.95,500.8h1.1v1.4h-1.1zM78.95,502.8h1.1v1.4h-1.1zM78.95,504.8h1.1v1.4h-1.1zM79.95,506.8h1.1v1.4h-1.1zM79.95,508.8h1.1v1.4h-1.1zM79.95,510.8h1.1v1.4h-1.1zM80.95,512.8h1.1v1.4h-1.1zM80.95,514.8h1.1v1.4h-1.1zM80.95,516.8h1.1v1.4h-1.1zM81.95,518.8h1.1v1.4h-1.1zM81.95,520.8h1.1v1.4h-1.1zM82.95,522.8h1.1v1.4h-1.1zM82.95,524.8h1.1v1.4h-1.1zM82.95,526.8h1.1v1.4h-1.1zM82.95,528.8h1.1v1.4h-1.1zM82.95,530.8h1.1v1.4h-1.1zM82.95,532.8h1.1v1.4h-1.1zM84.95,532.8h1.1v1.4h-1.1zM86.95,533.8h1.1v1.4h-1.1zM86.95,535.8h1.1v1.4h-1.1zM87.95,537.8h1.1v1.4h-1.1zM87.95,539.8h1.1v1.4h-1.1zM87.95,541.8h1.1v1.4h-1.1zM87.95,543.8h1.1v1.4h-1.1zM88.95,545.8h1.1v1.4h-1.1zM88.95,547.8h1.1v1.4h-1.1zM89.95,549.8h1.1v1.4h-1.1zM89.95,550.8h1.1v1.4h-1.1zM90.95,552.8h1.1v1.4h-1.1zM91.95,554.8h1.1v1.4h-1.1zM91.95,556.8h1.1v1.4h-1.1zM93.95,556.8h1.1v1.4h-1.1zM95.95,556.8h1.1v1.4h-1.1zM97.95,556.8h1.1v1.4h-1.1zM99.95,556.8h1.1v1.4h-1.1zM101.95,556.8h1.1v1.4h-1.1zM103.95,556.8h1.1v1.4h-1.1zM105.95,556.8h1.1v1.4h-1.1zM107.95,556.8h1.1v1.4h-1.1zM109.95,556.8h1.1v1.4h-1.1zM111.95,556.8h1.1v1.4h-1.1zM112.95,558.8h1.1v1.4h-1.1zM112.95,560.8h1.1v1.4h-1.1zM113.95,561.8h1.1v1.4h-1.1zM115.95,561.8h1.1v1.4h-1.1zM117.95,561.8h1.1v1.4h-1.1zM119.95,561.8h1.1v1.4h-1.1zM121.95,561.8h1.1v1.4h-1.1zM123.95,561.8h1.1v1.4h-1.1zM125.95,561.8h1.1v1.4h-1.1zM127.95,561.8h1.1v1.4h-1.1zM129.95,561.8h1.1v1.4h-1.1zM131.95,561.8h1.1v1.4h-1.1zM133.95,561.8h1.1v1.4h-1.1zM135.95,561.8h1.1v1.4h-1.1zM137.95,561.8h1.1v1.4h-1.1zM139.95,561.8h1.1v1.4h-1.1zM141.95,561.8h1.1v1.4h-1.1zM143.95,561.8h1.1v1.4h-1.1zM145.95,561.8h1.1v1.4h-1.1zM147.95,561.8h1.1v1.4h-1.1zM149.95,561.8h1.1v1.4h-1.1zM151.95,561.8h1.1v1.4h-1.1zM153.95,561.8h1.1v1.4h-1.1zM155.95,561.8h1.1v1.4h-1.1zM157.95,561.8h1.1v1.4h-1.1zM159.95,561.8h1.1v1.4h-1.1zM161.95,561.8h1.1v1.4h-1.1zM163.95,561.8h1.1v1.4h-1.1zM165.95,561.8h1.1v1.4h-1.1zM167.95,561.8h1.1v1.4h-1.1zM169.95,561.8h1.1v1.4h-1.1zM171.95,561.8h1.1v1.4h-1.1zM173.95,561.8h1.1v1.4h-1.1zM175.95,561.8h1.1v1.4h-1.1zM177.95,561.8h1.1v1.4h-1.1zM179.95,561.8h1.1v1.4h-1.1zM181.95,561.8h1.1v1.4h-1.1zM183.95,561.8h1.1v1.4h-1.1zM185.95,561.8h1.1v1.4h-1.1zM187.95,561.8h1.1v1.4h-1.1zM189.95,561.8h1.1v1.4h-1.1zM191.95,561.8h1.1v1.4h-1.1zM193.95,561.8h1.1v1.4h-1.1zM195.95,561.8h1.1v1.4h-1.1zM197.95,561.8h1.1v1.4h-1.1zM199.95,561.8h1.1v1.4h-1.1zM201.95,561.8h1.1v1.4h-1.1zM203.95,561.8h1.1v1.4h-1.1zM205.95,561.8h1.1v1.4h-1.1zM207.95,561.8h1.1v1.4h-1.1zM209.95,561.8h1.1v1.4h-1.1zM211.95,561.8h1.1v1.4h-1.1zM213.95,561.8h1.1v1.4h-1.1z"/>
<path class="d" d="M75.5,470.5 L77.5,482.5 L77.5,487.5 L78.5,494.5 L80.5,502.5 L81.5,508.5 L82.5,512.5 L84.5,516.5 L87.5,520.5 L88.5,525.5 L88.5,530.5 L90.5,533.5 L93.5,536.5 L96.5,538.5 L98.5,540.5 L102.5,542.5 L104.5,543.5 L107.5,545.5 L110.5,546.5 L112.5,548.5 L143.5,548.5 L144.5,551.5 L167.5,551.5 L167.5,555.5 L240.5,555.5"/>
<path class="s" d="M75.5,470.5 L76.5,479.5 L77.5,485.5 L82.5,485.5 L83.5,490.5 L84.5,496.5 L85.5,497.5 L85.5,507.5 L88.5,507.5 L89.5,515.5 L90.5,523.5 L94.5,523.5 L95.5,528.5 L96.5,529.5 L97.5,533.5 L98.5,539.5 L101.5,540.5 L102.5,545.5 L102.5,550.5 L108.5,550.5 L108.5,555.5 L181.5,555.5"/>
<path class="ax" d="M323.8,466.4 L323.8,585.9 L511.2,585.9"/>
<path class="tk" d="M320.6,582.5 H323.8"/>
<text x="317.5" y="584.9" font-size="7.6" text-anchor="end" >0.00</text>
<path class="tk" d="M320.6,554.5 H323.8"/>
<text x="317.5" y="556.89" font-size="7.6" text-anchor="end" >0.25</text>
<path class="tk" d="M320.6,526.5 H323.8"/>
<text x="317.5" y="528.88" font-size="7.6" text-anchor="end" >0.50</text>
<path class="tk" d="M320.6,498.5 H323.8"/>
<text x="317.5" y="500.86" font-size="7.6" text-anchor="end" >0.75</text>
<path class="tk" d="M320.6,470.5 H323.8"/>
<text x="317.5" y="472.85" font-size="7.6" text-anchor="end" >1.00</text>
<path class="tk" d="M327.5,585.9 V589.2"/>
<text x="327.2" y="598.5" font-size="7.6" text-anchor="middle" >0</text>
<path class="tk" d="M363.5,585.9 V589.2"/>
<text x="363.28" y="598.5" font-size="7.6" text-anchor="middle" >2</text>
<path class="tk" d="M399.5,585.9 V589.2"/>
<text x="399.36" y="598.5" font-size="7.6" text-anchor="middle" >4</text>
<path class="tk" d="M435.5,585.9 V589.2"/>
<text x="435.44" y="598.5" font-size="7.6" text-anchor="middle" >6</text>
<path class="tk" d="M471.5,585.9 V589.2"/>
<text x="471.52" y="598.5" font-size="7.6" text-anchor="middle" >8</text>
<path class="tk" d="M507.5,585.9 V589.2"/>
<text x="507.6" y="598.5" font-size="7.6" text-anchor="middle" >10</text>
<text x="373.51" y="611.3" font-size="10.4" textLength="88.37" lengthAdjust="spacingAndGlyphs">Years from registration</text>
<text transform="translate(296.3,555.3) rotate(-90)" x="-0.4" y="0" font-size="10.4" textLength="58.88" lengthAdjust="spacingAndGlyphs">Overall survival</text>
<text x="279.3" y="455.9" font-size="12.1" font-weight="bold">F</text>
<text x="412.1" y="458.9" font-size="7.65" text-anchor="start" textLength="84.06" lengthAdjust="spacingAndGlyphs">Cytogenetic Risk Groups</text>
<path class="s" d="M401.5,466.5 L423.5,466.5"/>
<text x="426.4" y="468.7" font-size="7.65" text-anchor="start" textLength="60.67" lengthAdjust="spacingAndGlyphs">Good (CYTO-GR)</text>
<path class="d" d="M401.5,475.5 L423.5,475.5"/>
<text x="426.4" y="478.2" font-size="7.65" text-anchor="start" textLength="80.52" lengthAdjust="spacingAndGlyphs">Intermediate (CYTO-IR)</text>
<path class="od" d="M400.95,483.8h1.1v1.4h-1.1zM402.95,483.8h1.1v1.4h-1.1zM404.95,483.8h1.1v1.4h-1.1zM406.95,483.8h1.1v1.4h-1.1zM408.95,483.8h1.1v1.4h-1.1zM410.95,483.8h1.1v1.4h-1.1zM412.95,483.8h1.1v1.4h-1.1zM414.95,483.8h1.1v1.4h-1.1zM416.95,483.8h1.1v1.4h-1.1zM418.95,483.8h1.1v1.4h-1.1zM420.95,483.8h1.1v1.4h-1.1zM422.95,483.8h1.1v1.4h-1.1z"/>
<text x="426.4" y="487.4" font-size="7.65" text-anchor="start" textLength="57.29" lengthAdjust="spacingAndGlyphs">High (CYTO-HR)</text>
<text x="329.3" y="582.3" font-size="7.4"><tspan font-style="italic">P</tspan> = .3</text>
<text x="269.4" y="621" font-size="7.65" text-anchor="start" textLength="49.41" lengthAdjust="spacingAndGlyphs">Number at risk</text>
<text x="319.5" y="631.95" font-size="7.65" text-anchor="end" textLength="34.91" lengthAdjust="spacingAndGlyphs">CYTO-GR</text>
<text x="327.2" y="631.95" font-size="7.6" text-anchor="middle" >21</text>
<text x="363.28" y="631.95" font-size="7.6" text-anchor="middle" >6</text>
<text x="399.36" y="631.95" font-size="7.6" text-anchor="middle" >3</text>
<text x="435.44" y="631.95" font-size="7.6" text-anchor="middle" >1</text>
<text x="471.52" y="631.95" font-size="7.6" text-anchor="middle" >0</text>
<text x="507.6" y="631.95" font-size="7.6" text-anchor="middle" >0</text>
<text x="319.5" y="641.15" font-size="7.65" text-anchor="end" textLength="31.11" lengthAdjust="spacingAndGlyphs">CYTO-IR</text>
<text x="327.2" y="641.15" font-size="7.6" text-anchor="middle" >51</text>
<text x="363.28" y="641.15" font-size="7.6" text-anchor="middle" >14</text>
<text x="399.36" y="641.15" font-size="7.6" text-anchor="middle" >10</text>
<text x="435.44" y="641.15" font-size="7.6" text-anchor="middle" >4</text>
<text x="471.52" y="641.15" font-size="7.6" text-anchor="middle" >3</text>
<text x="507.6" y="641.15" font-size="7.6" text-anchor="middle" >0</text>
<text x="319.5" y="650.25" font-size="7.65" text-anchor="end" textLength="34.48" lengthAdjust="spacingAndGlyphs">CYTO-HR</text>
<text x="327.2" y="650.25" font-size="7.6" text-anchor="middle" >32</text>
<text x="363.28" y="650.25" font-size="7.6" text-anchor="middle" >6</text>
<text x="399.36" y="650.25" font-size="7.6" text-anchor="middle" >4</text>
<text x="435.44" y="650.25" font-size="7.6" text-anchor="middle" >3</text>
<text x="471.52" y="650.25" font-size="7.6" text-anchor="middle" >0</text>
<text x="507.6" y="650.25" font-size="7.6" text-anchor="middle" >0</text>
<path class="od" d="M326.95,469.8h1.1v1.4h-1.1zM326.95,471.8h1.1v1.4h-1.1zM327.95,473.8h1.1v1.4h-1.1zM327.95,475.8h1.1v1.4h-1.1zM327.95,477.8h1.1v1.4h-1.1zM328.95,479.8h1.1v1.4h-1.1zM328.95,481.8h1.1v1.4h-1.1zM328.95,482.8h1.1v1.4h-1.1zM328.95,484.8h1.1v1.4h-1.1zM329.95,486.8h1.1v1.4h-1.1zM329.95,488.8h1.1v1.4h-1.1zM329.95,490.8h1.1v1.4h-1.1zM330.95,492.8h1.1v1.4h-1.1zM330.95,494.8h1.1v1.4h-1.1zM330.95,496.8h1.1v1.4h-1.1zM331.95,498.8h1.1v1.4h-1.1zM331.95,500.8h1.1v1.4h-1.1zM332.95,502.8h1.1v1.4h-1.1zM332.95,504.8h1.1v1.4h-1.1zM333.95,506.8h1.1v1.4h-1.1zM333.95,508.8h1.1v1.4h-1.1zM334.95,510.8h1.1v1.4h-1.1zM334.95,512.8h1.1v1.4h-1.1zM335.95,514.8h1.1v1.4h-1.1zM335.95,516.8h1.1v1.4h-1.1zM336.95,518.8h1.1v1.4h-1.1zM336.95,520.8h1.1v1.4h-1.1zM337.95,522.8h1.1v1.4h-1.1zM337.95,524.8h1.1v1.4h-1.1zM337.95,526.8h1.1v1.4h-1.1zM337.95,527.8h1.1v1.4h-1.1zM339.95,528.8h1.1v1.4h-1.1zM340.95,530.8h1.1v1.4h-1.1zM340.95,532.8h1.1v1.4h-1.1zM341.95,534.8h1.1v1.4h-1.1zM341.95,536.8h1.1v1.4h-1.1zM341.95,538.8h1.1v1.4h-1.1zM341.95,540.8h1.1v1.4h-1.1zM342.95,542.8h1.1v1.4h-1.1zM343.95,543.8h1.1v1.4h-1.1zM343.95,545.8h1.1v1.4h-1.1zM345.95,546.8h1.1v1.4h-1.1zM347.95,546.8h1.1v1.4h-1.1zM348.95,547.8h1.1v1.4h-1.1zM349.95,549.8h1.1v1.4h-1.1zM349.95,550.8h1.1v1.4h-1.1zM351.95,550.8h1.1v1.4h-1.1zM353.95,550.8h1.1v1.4h-1.1zM355.95,550.8h1.1v1.4h-1.1zM357.95,550.8h1.1v1.4h-1.1zM359.95,550.8h1.1v1.4h-1.1zM361.95,550.8h1.1v1.4h-1.1zM363.95,550.8h1.1v1.4h-1.1zM365.95,550.8h1.1v1.4h-1.1zM367.95,550.8h1.1v1.4h-1.1zM369.95,550.8h1.1v1.4h-1.1zM371.95,550.8h1.1v1.4h-1.1zM373.95,550.8h1.1v1.4h-1.1zM375.95,550.8h1.1v1.4h-1.1zM377.95,551.8h1.1v1.4h-1.1zM377.95,553.8h1.1v1.4h-1.1zM377.95,555.8h1.1v1.4h-1.1zM378.95,556.8h1.1v1.4h-1.1zM380.95,556.8h1.1v1.4h-1.1zM382.95,556.8h1.1v1.4h-1.1zM384.95,556.8h1.1v1.4h-1.1zM386.95,556.8h1.1v1.4h-1.1zM388.95,556.8h1.1v1.4h-1.1zM390.95,556.8h1.1v1.4h-1.1zM392.95,556.8h1.1v1.4h-1.1zM394.95,556.8h1.1v1.4h-1.1zM396.95,556.8h1.1v1.4h-1.1zM398.95,556.8h1.1v1.4h-1.1zM400.95,556.8h1.1v1.4h-1.1zM402.95,556.8h1.1v1.4h-1.1zM404.95,556.8h1.1v1.4h-1.1zM406.95,556.8h1.1v1.4h-1.1zM408.95,556.8h1.1v1.4h-1.1zM410.95,556.8h1.1v1.4h-1.1zM412.95,556.8h1.1v1.4h-1.1zM414.95,556.8h1.1v1.4h-1.1zM416.95,556.8h1.1v1.4h-1.1zM418.95,556.8h1.1v1.4h-1.1zM420.95,556.8h1.1v1.4h-1.1zM422.95,556.8h1.1v1.4h-1.1zM424.95,556.8h1.1v1.4h-1.1zM425.95,557.8h1.1v1.4h-1.1zM427.95,557.8h1.1v1.4h-1.1zM429.95,557.8h1.1v1.4h-1.1zM431.95,557.8h1.1v1.4h-1.1zM433.95,557.8h1.1v1.4h-1.1zM435.95,557.8h1.1v1.4h-1.1zM437.95,557.8h1.1v1.4h-1.1zM439.95,557.8h1.1v1.4h-1.1zM441.95,557.8h1.1v1.4h-1.1zM443.95,557.8h1.1v1.4h-1.1zM445.95,557.8h1.1v1.4h-1.1zM447.95,557.8h1.1v1.4h-1.1zM449.95,557.8h1.1v1.4h-1.1zM449.95,559.8h1.1v1.4h-1.1zM449.95,561.8h1.1v1.4h-1.1zM449.95,563.8h1.1v1.4h-1.1zM449.95,565.8h1.1v1.4h-1.1zM449.95,567.8h1.1v1.4h-1.1zM451.95,568.8h1.1v1.4h-1.1zM453.95,568.8h1.1v1.4h-1.1zM455.95,568.8h1.1v1.4h-1.1zM457.95,568.8h1.1v1.4h-1.1zM459.95,568.8h1.1v1.4h-1.1zM461.95,568.8h1.1v1.4h-1.1zM463.95,568.8h1.1v1.4h-1.1zM465.95,568.8h1.1v1.4h-1.1z"/>
<path class="d" d="M327.5,470.5 L329.5,479.5 L331.5,483.5 L332.5,488.5 L333.5,493.5 L334.5,498.5 L336.5,504.5 L337.5,509.5 L338.5,514.5 L339.5,520.5 L341.5,522.5 L343.5,523.5 L345.5,525.5 L348.5,527.5 L349.5,531.5 L353.5,535.5 L356.5,538.5 L358.5,540.5 L362.5,542.5 L366.5,545.5 L366.5,549.5 L395.5,549.5 L395.5,552.5 L424.5,552.5 L424.5,558.5 L493.5,558.5"/>
<path class="s" d="M327.5,470.5 L329.5,474.5 L330.5,478.5 L331.5,480.5 L334.5,480.5 L335.5,485.5 L337.5,485.5 L338.5,490.5 L340.5,492.5 L341.5,497.5 L342.5,502.5 L343.5,507.5 L344.5,507.5 L345.5,512.5 L346.5,514.5 L348.5,518.5 L349.5,527.5 L351.5,528.5 L352.5,536.5 L354.5,538.5 L355.5,539.5 L356.5,545.5 L360.5,545.5 L361.5,549.5 L440.5,549.5"/>
<text transform="translate(15,112.3) rotate(-90)" x="-0.24" y="0" font-size="9.6" font-weight="bold" textLength="51.83" lengthAdjust="spacingAndGlyphs">All patients</text>
<text transform="translate(15,359.1) rotate(-90)" x="-0.28" y="0" font-size="9.6" font-weight="bold" textLength="106.19" lengthAdjust="spacingAndGlyphs">Standard Risk patients</text>
<text transform="translate(15,568.2) rotate(-90)" x="-0.66" y="0" font-size="9.6" font-weight="bold" textLength="85.45" lengthAdjust="spacingAndGlyphs">High Risk patients</text>
</svg></body></html>
